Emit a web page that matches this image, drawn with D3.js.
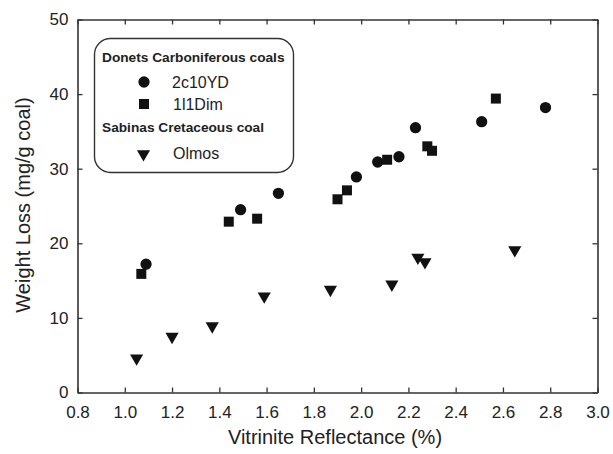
<!DOCTYPE html>
<html><head><meta charset="utf-8">
<script src="https://cdn.jsdelivr.net/npm/d3@7"></script>
<style>body{margin:0;background:#fff}svg{display:block}text{font-family:"Liberation Sans",Arial,sans-serif;fill:#222}</style>
</head><body><svg id="c" width="613" height="454"></svg>
<script>
const xTicks = [0.8,1.0,1.2,1.4,1.6,1.8,2.0,2.2,2.4,2.6,2.8,3.0];
const yTicks = [0,10,20,30,40,50];
const s1Name = "2c10YD";
const s1X = [1.09,1.49,1.65,1.98,2.07,2.16,2.23,2.51,2.78];
const s1Y = [17.2,24.5,26.7,28.9,30.9,31.6,35.5,36.3,38.2];
const s2Name = "1l1Dim";
const s2X = [1.07,1.44,1.56,1.90,1.94,2.11,2.28,2.30,2.57];
const s2Y = [15.9,22.9,23.3,25.9,27.1,31.2,33.0,32.4,39.4];
const s3Name = "Olmos";
const s3X = [1.05,1.20,1.37,1.59,1.87,2.13,2.24,2.27,2.65];
const s3Y = [4.6,7.5,8.9,12.9,13.8,14.5,18.1,17.5,19.1];
const group1 = "Donets Carboniferous coals";
const group2 = "Sabinas Cretaceous coal";

const svg = d3.select("#c");
const L=77.5,R=597.5,T=19.5,B=392.5;
const x = d3.scaleLinear().domain([0.8,3.0]).range([L,R]);
const y = d3.scaleLinear().domain([0,50]).range([B,T]);
const col="#333";

function styleAxis(g){g.select(".domain").attr("stroke",col).attr("stroke-width",1.6);g.selectAll(".tick line").attr("stroke",col).attr("stroke-width",1.3);}
svg.append("g").attr("transform",`translate(0,${B})`).call(d3.axisBottom(x).tickValues(xTicks).tickFormat(d3.format(".1f")).tickSizeInner(-5).tickSizeOuter(0).tickPadding(13))
 .call(styleAxis).call(g=>g.selectAll("text").attr("font-size",17).attr("fill","#222"));
svg.append("g").attr("transform",`translate(0,${T})`).call(d3.axisTop(x).tickValues(xTicks).tickFormat("").tickSizeInner(-5).tickSizeOuter(0)).call(styleAxis);
svg.append("g").attr("transform",`translate(${L},0)`).call(d3.axisLeft(y).tickValues(yTicks).tickSizeInner(-5).tickSizeOuter(0).tickPadding(9))
 .call(styleAxis).call(g=>g.selectAll("text").attr("font-size",17).attr("fill","#222"));
svg.append("g").attr("transform",`translate(${R},0)`).call(d3.axisRight(y).tickValues(yTicks).tickFormat("").tickSizeInner(-5).tickSizeOuter(0)).call(styleAxis);

svg.append("text").attr("x",335).attr("y",444).attr("text-anchor","middle").attr("font-size",20).text("Vitrinite Reflectance (%)");
svg.append("text").attr("transform",`translate(30,205) rotate(-90)`).attr("text-anchor","middle").attr("font-size",20).text("Weight Loss (mg/g coal)");

const circ = d3.symbol().type(d3.symbolCircle).size(100);
const sq = d3.symbol().type(d3.symbolSquare).size(100);
const tri = d3.symbol().type(d3.symbolTriangle).size(75);
function plot(xs,ys,sym,rot){
  svg.append("g").selectAll("path").data(xs.map((v,i)=>[v,ys[i]])).join("path")
   .attr("d",sym).attr("fill","#111")
   .attr("transform",d=>`translate(${x(d[0])},${y(d[1])})${rot?" rotate(180)":""}`);
}
plot(s1X,s1Y,circ,false);
plot(s2X,s2Y,sq,false);
plot(s3X,s3Y,tri,true);

// legend
const lg = svg.append("g");
lg.append("rect").attr("x",94.5).attr("y",38.5).attr("width",199).attr("height",134).attr("rx",16).attr("fill","#fff").attr("stroke",col).attr("stroke-width",1.4);
lg.append("text").attr("x",102).attr("y",62).attr("font-size",13.7).attr("font-weight","bold").text(group1);
lg.append("path").attr("d",circ).attr("transform","translate(144,82)").attr("fill","#111");
lg.append("text").attr("x",172).attr("y",88).attr("font-size",16).text(s1Name);
lg.append("path").attr("d",sq).attr("transform","translate(144,104)").attr("fill","#111");
lg.append("text").attr("x",173).attr("y",109.5).attr("font-size",16).text(s2Name);
lg.append("text").attr("x",102).attr("y",132).attr("font-size",13.7).attr("font-weight","bold").text(group2);
lg.append("path").attr("d",tri).attr("transform","translate(143.5,154) rotate(180)").attr("fill","#111");
lg.append("text").attr("x",173).attr("y",159).attr("font-size",16).text(s3Name);
</script></body></html>
